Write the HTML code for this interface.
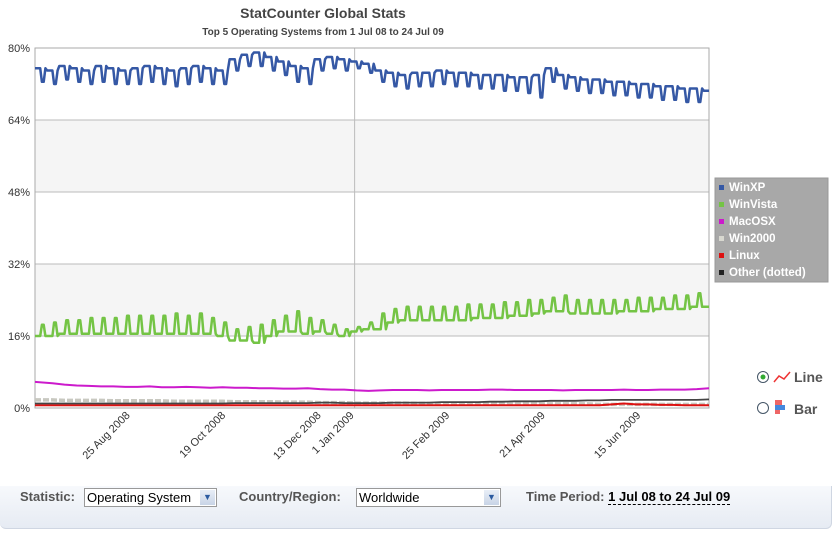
<!DOCTYPE html>
<html><head><meta charset="utf-8"><style>
body{margin:0;width:837px;height:533px;background:#fff;font-family:"Liberation Sans",Arial,sans-serif;overflow:hidden;position:relative}
#panel{position:absolute;left:0;top:486px;width:831px;height:42px;background:linear-gradient(#f7f9fc,#e6ebf3);border-right:1px solid #cfd6e2;border-bottom:1px solid #cfd6e2;border-radius:0 0 6px 6px}
.lbl{position:absolute;top:489px;font-size:13px;color:#555;font-weight:bold}
.sel{position:absolute;top:488px;height:19px;border:1px solid #999;background:#fff;font-size:13px;line-height:18px;padding-left:2px;box-sizing:border-box}
.arr{position:absolute;right:1px;top:1px;width:15px;height:15px;background:linear-gradient(#e8eef7,#c8d4e6);color:#2a5aa0;font-size:9px;text-align:center;line-height:15px}
</style></head><body>
<svg width="837" height="486" style="position:absolute;left:0;top:0" id="chart">
<text x="323" y="18" text-anchor="middle" font-size="14" font-weight="bold" fill="#444">StatCounter Global Stats</text>
<text x="323" y="35" text-anchor="middle" font-size="10" font-weight="bold" fill="#444">Top 5 Operating Systems from 1 Jul 08 to 24 Jul 09</text>
<g id="grid"></g><g id="series"></g><g id="xt"></g>
<g>
<rect x="715" y="178" width="113" height="104" fill="#a8a8a8" stroke="#999"/>
<g id="leg"></g></g>
<g><circle cx="763" cy="377" r="5.5" fill="#fff" stroke="#456"/><circle cx="763" cy="377" r="2.5" fill="#3a3"/>
<polyline points="774,382 779,376 784,379 790,372" fill="none" stroke="#e33" stroke-width="1.5"/><text x="794" y="382" font-size="14" font-weight="bold" fill="#555">Line</text></g>
<g><circle cx="763" cy="408" r="5.5" fill="#fff" stroke="#456"/>
<rect x="775" y="400" width="7" height="5" fill="#e66"/><rect x="775" y="405" width="10" height="5" fill="#48d"/><rect x="775" y="410" width="5" height="4" fill="#e66"/>
<text x="794" y="414" font-size="14" font-weight="bold" fill="#555">Bar</text></g>
</svg>
<div id="panel"></div>
<div class="lbl" style="left:20px">Statistic:</div>
<div class="sel" style="left:84px;width:133px">Operating System<div class="arr">▼</div></div>
<div class="lbl" style="left:239px">Country/Region:</div>
<div class="sel" style="left:356px;width:145px">Worldwide<div class="arr">▼</div></div>
<div class="lbl" style="left:526px">Time Period: <span style="color:#000;border-bottom:1px dashed #000">1 Jul 08 to 24 Jul 09</span></div>
<script>
const yTicks=[0,16,32,48,64,80];
const yTickLabels=["0%","16%","32%","48%","64%","80%"];
const xTickDays=[55,110,165,184,239,294,349];
const xTickLabels=["25 Aug 2008","19 Oct 2008","13 Dec 2008","1 Jan 2009","25 Feb 2009","21 Apr 2009","15 Jun 2009"];
const seriesNames=["WinXP","WinVista","MacOSX","Win2000","Linux","Other (dotted)"];
const xpWk=[75.5,75,76,75.5,75,76,75.5,75,75.5,76,75.5,75,75.5,76,75.5,75,77.5,78.5,79,78,77,76,75.5,77.5,78,77.5,77,76.5,75,74.5,74,74.5,74.5,75,74.5,74.5,74,74,74,73.5,73.5,74,75.5,74,73.5,73,73,72.5,72.5,72,72,71.5,71.5,71,71,70.5];
const xpWe=[72.5,72,73,72.5,72,72.5,72,72,72,72.5,72,71.5,72,72.5,72,72,75,76,76,75,74,72.5,72,75,75.5,75,75.5,74.5,72.5,71.5,71,71.5,71.5,72,71.5,71.5,71,71,70.5,70.5,70,69,72.5,71,70.5,70,70,69.5,69.5,69,69,68.5,68.5,68,68,68.5];
const vistaWk=[16,16,16.5,16.5,16.5,16.5,16.5,16.5,16.5,16.5,16.5,16.5,16.5,16.5,16.5,16,15,15,14.5,16,17,17,16.5,17,16.5,16,17,17.5,17.5,19,19.5,19.5,19.5,19.5,19.5,19.5,20,20,20,20.5,20.5,21,21.5,21.5,21,21,21,21,21.5,21.5,21.5,22,22,22,22.5,22.5];
const vistaWe=[18.5,19,19.5,19.5,20,20,20,20.5,20.5,20.5,20.5,21,20.5,21,20,19,17.5,18,18.5,19.5,20.5,21.5,20,19.5,18.5,17.5,18,19,21,22,22.5,22.5,22.5,22.5,22.5,23,23,23,23.5,23.5,24,24,24.5,25,24,24,24,24,24,24.5,24.5,24.5,25,25,25.5,25.5];
const mac=[5.8,5.5,5.2,5,4.9,4.8,4.8,4.7,4.7,4.8,4.6,4.6,4.7,4.6,4.5,4.6,4.5,4.5,4.4,4.4,4.3,4.3,4.4,4.2,4.1,4.1,3.9,3.8,3.9,4,4,4,3.9,4,4,4,4,4.1,4.1,4,4,4,4,3.9,4,4,4,4,4.1,4,4,4.1,4.1,4.1,4.2,4.4];
const win2000=[1.8,1.8,1.7,1.7,1.7,1.7,1.6,1.6,1.6,1.6,1.6,1.5,1.5,1.5,1.5,1.5,1.4,1.4,1.4,1.4,1.3,1.3,1.3,1.2,1.2,1.2,1.1,1.1,1.1,1.1,1.1,1,1,1,1,1,1,1,0.9,0.9,0.9,0.9,0.9,0.9,0.9,0.9,0.8,0.8,0.8,0.8,0.8,0.8,0.8,0.8,0.8,0.8];
const linux=[0.6,0.6,0.6,0.6,0.6,0.6,0.6,0.6,0.6,0.6,0.6,0.6,0.6,0.6,0.6,0.6,0.6,0.6,0.6,0.6,0.6,0.6,0.6,0.6,0.6,0.6,0.6,0.6,0.6,0.6,0.6,0.6,0.6,0.6,0.6,0.6,0.6,0.6,0.6,0.6,0.6,0.6,0.6,0.6,0.6,0.6,0.6,0.8,1,0.8,0.8,0.7,0.7,0.6,0.6,0.6];
const other=[1,1,1,1,1,1,1,1,1,1,1,1,1,1,1,1,1.1,1.1,1.1,1.1,1.1,1.1,1.1,1.2,1.2,1.1,1.1,1.1,1.1,1.2,1.2,1.2,1.2,1.3,1.3,1.3,1.3,1.4,1.4,1.5,1.5,1.5,1.6,1.6,1.6,1.7,1.7,1.8,1.8,1.8,1.8,1.8,1.8,1.8,1.8,1.9];
const NS="http://www.w3.org/2000/svg";
const X0=35,X1=709,Y0=408,Y1=48,DAYS=388;
function xs(d){return X0+d*(X1-X0)/DAYS}
function ys(v){return Y0-(v-0)*(Y0-Y1)/80}
function mk(t,a,p){const e=document.createElementNS(NS,t);for(const k in a)e.setAttribute(k,a[k]);p.appendChild(e);return e}
const grid=document.getElementById('grid');
[[16,32],[48,64]].forEach(b=>{const r=mk('rect',{x:X0,y:ys(b[1]),width:X1-X0,height:ys(b[0])-ys(b[1]),fill:'#f5f5f5'},grid);

});
yTicks.forEach((v,i)=>{const l=mk('line',{x1:X0,x2:X1,y1:ys(v),y2:ys(v),stroke:'#bbb'},grid);


const t=mk('text',{x:30,y:ys(v)+4,'text-anchor':'end','font-size':11,fill:'#333'},grid);t.textContent=yTickLabels[i];

});
const vl=mk('line',{x1:xs(184),x2:xs(184),y1:Y1,y2:Y0,stroke:'#bbb'},grid);


const fr=mk('rect',{x:X0,y:Y1,width:X1-X0,height:Y0-Y1,fill:'none',stroke:'#aaa'},grid);


const xt=document.getElementById('xt');
xTickDays.forEach((d,i)=>{const x=xs(d),y=416;const t=mk('text',{x:x,y:y,'text-anchor':'end','font-size':11,fill:'#333',transform:`rotate(-45 ${x} ${y})`},xt);t.textContent=xTickLabels[i];

});
function weekly(wk,we){const p=[];for(let d=0;d<=DAYS;d++){const w=Math.floor(d/7),dw=d%7;const v=(dw==4||dw==5)?we[w]:wk[w];p.push(xs(d).toFixed(1)+','+ys(v).toFixed(1));}return p.join(' ')}
function flat(a){const p=[];for(let w=0;w<a.length;w++){const d=Math.min(w*7+3,DAYS);p.push(xs(w==0?0:(w==a.length-1?DAYS:d)).toFixed(1)+','+ys(a[w]).toFixed(1));}return p.join(' ')}
const sg=document.getElementById('series');
const defs=[[weekly(xpWk,xpWe),'#3558a5',2.5,'series-winxp',''],[weekly(vistaWk,vistaWe),'#74c445',2.5,'series-winvista',''],[flat(mac),'#cc1acc',2,'series-macosx',''],[flat(win2000),'#c8c8c0',3.5,'series-win2000','6,2'],[flat(linux),'#dd1111',2,'series-linux',''],[flat(other),'#444',1.8,'series-other','']];
defs.forEach(s=>{const a={points:s[0],fill:'none',stroke:s[1],'stroke-width':s[2],'stroke-linejoin':'round'};if(s[4])a['stroke-dasharray']=s[4];const e=mk('polyline',a,sg);

});
const legCol=['#3558a5','#74c445','#cc1acc','#d8d8d0','#dd1111','#222'];
const lg=document.getElementById('leg');
seriesNames.forEach((n,i)=>{const y=191+i*17;mk('rect',{x:719,y:y-6,width:5,height:5,fill:legCol[i]},lg);
const t=mk('text',{x:729,y:y,'font-size':11.5,'font-weight':'bold',fill:'#fff'},lg);t.textContent=n;

});
</script>
</body></html>
